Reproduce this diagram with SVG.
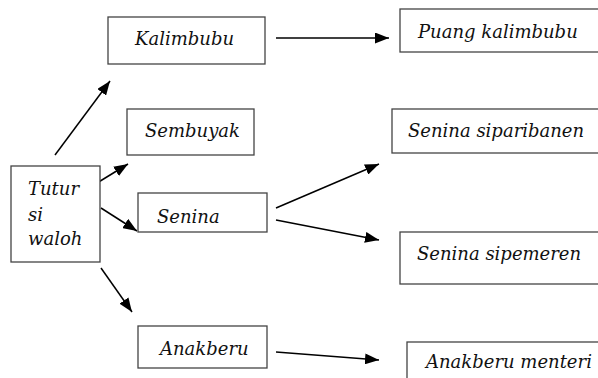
<svg xmlns="http://www.w3.org/2000/svg" width="598" height="378" viewBox="0 0 598 378">
<style>
.box{fill:#fff;stroke:#444;stroke-width:1.3}
.t{font-family:'DejaVu Serif',serif;font-style:italic;font-size:18px;fill:#111}
.c{stroke:#000;stroke-width:1.5;fill:none}
</style>
<defs>
<marker id="ah" viewBox="0 0 14 11" refX="14" refY="5.5" markerWidth="14" markerHeight="11" markerUnits="userSpaceOnUse" orient="auto">
<path d="M0,0 L14,5.5 L0,11 z" fill="#000"/>
</marker>
</defs>
<rect width="598" height="378" fill="#fff"/>
<g id="connectors">
<line class="c" x1="55" y1="155" x2="110" y2="81" marker-end="url(#ah)"/>
<line class="c" x1="97" y1="183" x2="128" y2="164" marker-end="url(#ah)"/>
<line class="c" x1="101" y1="208" x2="137" y2="231" marker-end="url(#ah)"/>
<line class="c" x1="101" y1="268" x2="132" y2="312" marker-end="url(#ah)"/>
<line class="c" x1="276" y1="38" x2="389" y2="38" marker-end="url(#ah)"/>
<line class="c" x1="276" y1="208" x2="379" y2="164" marker-end="url(#ah)"/>
<line class="c" x1="276" y1="220" x2="379" y2="240" marker-end="url(#ah)"/>
<line class="c" x1="276" y1="352" x2="379" y2="360" marker-end="url(#ah)"/>
</g>
<g id="tutur">
<rect class="box" x="11" y="166" width="89" height="96"/>
<text class="t" x="28" y="195">Tutur</text>
<text class="t" x="28" y="221">si</text>
<text class="t" x="28" y="245">waloh</text>
</g>
<g id="kalimbubu">
<rect class="box" x="108" y="17" width="157" height="47"/>
<text class="t" x="135" y="45">Kalimbubu</text>
</g>
<g id="sembuyak">
<rect class="box" x="127" y="109" width="127" height="46"/>
<text class="t" x="145" y="137">Sembuyak</text>
</g>
<g id="senina">
<rect class="box" x="138" y="193" width="129" height="39"/>
<text class="t" x="157" y="223">Senina</text>
</g>
<g id="anakberu">
<rect class="box" x="138" y="326" width="129" height="42"/>
<text class="t" x="160" y="355">Anakberu</text>
</g>
<g id="puang-kalimbubu">
<rect class="box" x="400" y="9" width="210" height="43"/>
<text class="t" x="418" y="38">Puang kalimbubu</text>
</g>
<g id="senina-siparibanen">
<rect class="box" x="392" y="109" width="220" height="44"/>
<text class="t" x="408" y="137">Senina siparibanen</text>
</g>
<g id="senina-sipemeren">
<rect class="box" x="400" y="232" width="210" height="52"/>
<text class="t" x="417" y="260">Senina sipemeren</text>
</g>
<g id="anakberu-menteri">
<rect class="box" x="407" y="342" width="205" height="50"/>
<text class="t" x="426" y="368">Anakberu menteri</text>
</g>
</svg>
